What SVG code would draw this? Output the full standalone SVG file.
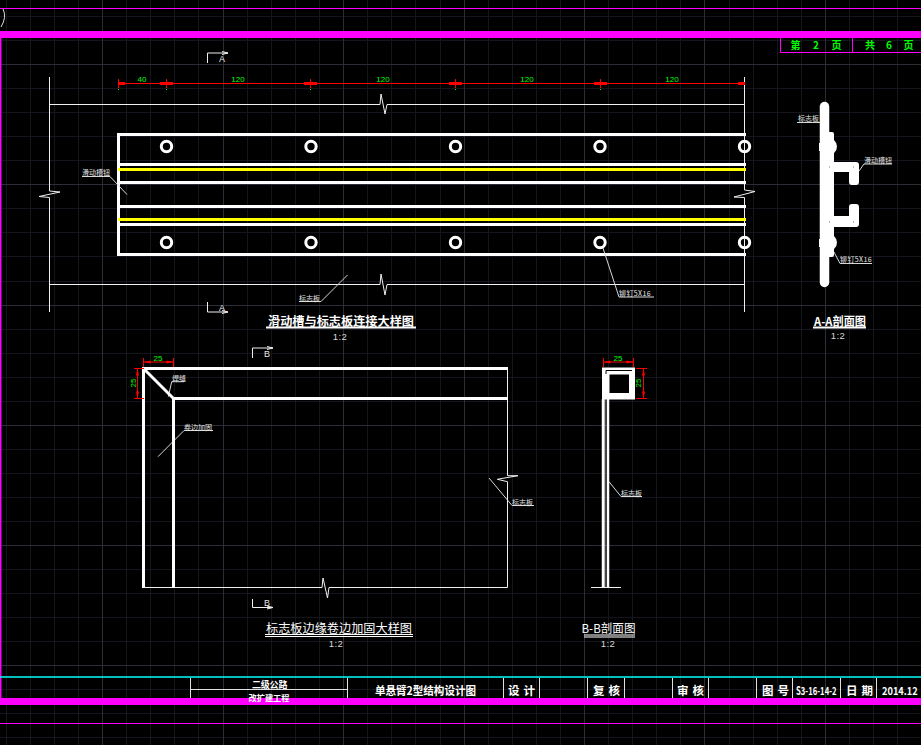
<svg xmlns="http://www.w3.org/2000/svg" width="921" height="745" viewBox="0 0 921 745">
<defs>
<style>
.minor{stroke:#15161d;stroke-width:1;fill:none}
.major{stroke:#2b2d37;stroke-width:1;fill:none}
.mag{stroke:#ff00ff;fill:none}
.thick{stroke:#fff;stroke-width:3;fill:none}
.thin{stroke:#f0f0f0;stroke-width:1;fill:none}
.lead{stroke:#d8d8d8;stroke-width:1;fill:none}
.hole{stroke:#fff;stroke-width:3;fill:#000}
.yel{stroke:#ffff00;stroke-width:3;fill:none}
.dim{stroke:#ff0000;stroke-width:1;fill:none}
.arr{fill:#ff0000;stroke:none}
.dot{fill:#00ff00;stroke:none}
.g{fill:#00ff00;font:8px "Liberation Sans","Noto Sans CJK SC",sans-serif;text-anchor:middle}
.pg{fill:#00ff00;font:bold 10px "Noto Sans CJK SC",sans-serif;text-anchor:middle}
.s{fill:#e8e8e8;font:7px "Noto Sans CJK SC",sans-serif}
.sec{fill:#e8e8e8;font:9px "Liberation Sans",sans-serif;text-anchor:middle}
.t{fill:#fff;font:bold 12px "Noto Sans CJK SC",sans-serif;text-anchor:middle}
.tn{fill:#fff;font:12px "Noto Sans CJK SC",sans-serif;text-anchor:middle}
.sc{fill:#d8d8d8;font:9.5px "Liberation Sans",sans-serif;text-anchor:middle;letter-spacing:.5px}
.tb{fill:#fff;font:bold 11.5px "Noto Sans CJK SC",sans-serif}
.fill{fill:#fff;stroke:none}
</style>
</defs>
<rect width="921" height="745" fill="#000"/>
<g id="grid">
<path class="minor" d="M6.5 0V745M30.5 0V745M54.5 0V745M78.5 0V745M126.5 0V745M150.5 0V745M174.5 0V745M198.5 0V745M247.5 0V745M271.5 0V745M295.5 0V745M319.5 0V745M367.5 0V745M391.5 0V745M415.5 0V745M440.5 0V745M488.5 0V745M512.5 0V745M536.5 0V745M560.5 0V745M608.5 0V745M632.5 0V745M656.5 0V745M680.5 0V745M729.5 0V745M753.5 0V745M777.5 0V745M801.5 0V745M849.5 0V745M873.5 0V745M897.5 0V745M0 16.5H921M0 40.5H921M0 88.5H921M0 112.5H921M0 136.5H921M0 160.5H921M0 208.5H921M0 232.5H921M0 256.5H921M0 281.5H921M0 329.5H921M0 353.5H921M0 377.5H921M0 401.5H921M0 449.5H921M0 473.5H921M0 497.5H921M0 521.5H921M0 569.5H921M0 593.5H921M0 617.5H921M0 641.5H921M0 689.5H921M0 713.5H921M0 737.5H921"/>
<path class="major" d="M102.5 0V745M223.5 0V745M343.5 0V745M464.5 0V745M584.5 0V745M704.5 0V745M825.5 0V745M0 64.5H921M0 184.5H921M0 305.5H921M0 425.5H921M0 545.5H921M0 665.5H921"/>
</g>
<g id="frame">
<path class="mag" stroke-width="1" d="M0 8.5H921M0 723.5H921"/>
<path class="mag" stroke-width="7" d="M0 34.5H921M0 701.5H921"/>
<path class="mag" stroke-width="1.5" d="M.7 38V698"/>
<path d="M0 677H921" stroke="#00ffff" stroke-width="1.5" fill="none"/>
<path d="M3 9Q7 17 1 27" stroke="#e0e0e0" stroke-width="1" fill="none"/>
</g>
<g id="page-box">
<path class="mag" stroke-width="1" d="M780.5 38V52.5H921M852.5 38V52.5"/>
<text class="pg" x="795.5" y="49">第</text><text class="pg" x="816" y="49">2</text><text class="pg" x="836.500" y="49">页</text>
<text class="pg" x="870" y="49">共</text><text class="pg" x="889" y="49">6</text><text class="pg" x="908.500" y="49">页</text>
</g>
<g id="plate-detail">
<path class="thin" d="M49.5 77V191L60 192 39 196.500 49.500 197.500V312M50 104.500H380L381 94 385 114 387 104.500H744.500M50 284.500H380L381 274 385 295 387 284.500H744.500M744.500 77V190L755 191.500 734 197 744.500 197.500V312"/>
<path class="thick" d="M746 134.500H118.500V254.500H746M118 164.500H746M118 182.500H746M118 206.500H746M118 224.500H746"/>
<path class="yel" d="M118 169.500H746M118 219.500H746"/>
<g id="rivets">
<circle class="hole" cx="166.500" cy="146.500" r="5.200"/><circle class="hole" cx="311" cy="146.500" r="5.200"/><circle class="hole" cx="455.500" cy="146.500" r="5.200"/><circle class="hole" cx="600" cy="146.500" r="5.200"/><circle class="hole" cx="744.500" cy="146.500" r="5.200"/>
<circle class="hole" cx="166.500" cy="242.500" r="5.200"/><circle class="hole" cx="311" cy="242.500" r="5.200"/><circle class="hole" cx="455.500" cy="242.500" r="5.200"/><circle class="hole" cx="600" cy="242.500" r="5.200"/><circle class="hole" cx="744.500" cy="242.500" r="5.200"/>
</g>
<path class="thin" d="M744.500 141V152M744.500 237V248"/>
</g>
<g id="dimensions-top">
<path class="dim" d="M118 83.500H745M118.500 79V88M166.500 79V88M310.500 79V88M455.500 79V88M600.500 79V88"/>
<path class="arr" d="M118 82h7v3h-7zM160 82h13v3h-13zM304 82h13v3h-13zM449 82h13v3h-13zM594 82h13v3h-13zM738 82h7v3h-7z"/>
<path class="dot" d="M118 89h1v1h-1zM166 89h1v1h-1zM310 89h1v1h-1zM455 89h1v1h-1zM600 89h1v1h-1z"/>
<text class="g" x="142" y="82">40</text><text class="g" x="238" y="82">120</text><text class="g" x="383" y="82">120</text><text class="g" x="527" y="82">120</text><text class="g" x="672" y="82">120</text>
</g>
<g id="section-marks-a">
<path class="thin" d="M207.500 63V53H228M207.500 302V312H228M222 51.500L228 53 222 54.500M222 310.500L228 312 222 313.500"/>
<text class="sec" x="222" y="62">A</text><text class="sec" x="222" y="311">A</text>
</g>
<g id="connectors">
<path class="lead" d="M82 176.500H110L127 194.500M299 301.500H321L347.500 275M654 297H619L603 248M797 122.500H820M892 164H864L859 171M872 263.500H840L834 252"/>
<path class="lead" d="M171.700 381.700H184M171.700 381.700L168.300 396.700M213 430.500H184L158 456.700M534 505.500H512L489 478M642 496.500H621L609 481.700"/>
</g>
<g id="labels-top">
<text class="s" x="82" y="175">滑动槽钮</text>
<text class="s" x="299" y="300.500">标志板</text>
<text class="s" x="619" y="296" letter-spacing=".4">铆钉5X16</text>
<text class="s" x="798" y="120.500">标志板</text>
<text class="s" x="864" y="162.500">滑动槽钮</text>
<text class="s" x="840" y="262" letter-spacing=".4">铆钉5X16</text>
</g>
<g id="title-top">
<path d="M266 327.500H416M813 327.500H866" stroke="#fff" stroke-width="2" fill="none"/>
<text class="t" x="341" y="326" textLength="146" lengthAdjust="spacingAndGlyphs">滑动槽与标志板连接大样图</text>
<text class="sc" x="340" y="340">1:2</text>
<text class="t" x="840" y="326" textLength="52" lengthAdjust="spacingAndGlyphs">A-A剖面图</text>
<text class="sc" x="838" y="339">1:2</text>
</g>
<g id="section-aa">
<path d="M824.500 106.500V282.500" stroke="#fff" stroke-width="9.500" stroke-linecap="round" fill="none"/>
<rect class="fill" x="825" y="132" width="9" height="125" rx="2"/>
<circle class="fill" cx="829" cy="146.500" r="8"/><circle class="fill" cx="829" cy="242.500" r="8"/>
<path class="fill" d="M819 143h8v8h-8zM819 239h8v8h-8z"/>
<path class="fill" d="M830 162H856Q859 162 859 165V182Q859 185 856 185H852Q849 185 849 182V172H830Z"/>
<path class="fill" d="M830 227H856Q859 227 859 224V207Q859 204 856 204H852Q849 204 849 207V216H830Z"/>
<path fill="#777" d="M829 166.500h1v1h-1zM853 166.500h1v1h-1zM829 221.500h1v1h-1zM853 221.500h1v1h-1z"/>
</g>
<g id="edge-detail">
<path class="thin" d="M145 587.500H322L323 578 327.500 598 329 587.500H507.500V481.700L497.300 479.300 518 475.700H507.500V369"/>
<path class="thick" d="M143.500 588V368.500H508M173.500 588V398.500H508M143.500 368.500L173.500 398.500"/>
<path class="dim" d="M143.500 362H173.500M143.500 358V367M173.500 358V367M137.500 368.500V398.500M134 368.500H144M134 398.500H144"/>
<path class="arr" d="M143.500 362l7-1.500v3zM173.500 362l-7-1.500v3zM137.500 368.500l-1.500 7h3zM137.500 398.500l-1.500-7h3z"/>
<text class="g" x="158" y="361">25</text>
<text class="g" transform="translate(136 383) rotate(-90)">25</text>
<path class="thin" d="M252.500 358V348H273M252.500 599V607.500H273M267 346.500L273 348 267 349.500M267 606L273 607.500 267 609"/>
<text class="sec" x="267" y="357">B</text><text class="sec" x="267" y="606">B</text>
<text class="s" x="172" y="381">焊缝</text>
<text class="s" x="184" y="429.500">卷边加固</text>
<text class="s" x="512" y="504.500">标志板</text>
</g>
<g id="title-edge">
<path d="M265 634.500H413M265 636.500H413" stroke="#fff" stroke-width="1" fill="none"/>
<text class="tn" x="339" y="633" textLength="146" lengthAdjust="spacingAndGlyphs">标志板边缘卷边加固大样图</text>
<text class="sc" x="336" y="647">1:2</text>
</g>
<g id="section-bb">
<rect class="fill" x="602" y="367.500" width="33" height="32"/>
<path d="M606 370.500H632M606 370.500V374" stroke="#000" stroke-width="1" fill="none"/>
<rect x="609.500" y="374.500" width="19.500" height="18.500" fill="#000"/>
<path d="M603 399V588M608 399V588" stroke="#fff" stroke-width="2.500" fill="none"/>
<path d="M604.800 399V588" stroke="#eee" stroke-width="1" fill="none"/>
<path class="thin" d="M591 587.500H621"/>
<path class="dim" d="M603.500 362H633.500M603.500 358V367M633.500 358V367M643.500 368.500V398.500M636 368.500H647M636 398.500H647"/>
<path class="arr" d="M603.500 362l7-1.500v3zM633.500 362l-7-1.500v3zM643.500 368.500l-1.500 7h3zM643.500 398.500l-1.500-7h3z"/>
<text class="g" x="618" y="361">25</text>
<text class="g" transform="translate(641 383) rotate(-90)">25</text>
<text class="s" x="621" y="495.500">标志板</text>
</g>
<g id="title-bb">
<path d="M584 635H635M584 637H635" stroke="#fff" stroke-width="1" fill="none"/>
<text class="tn" x="608.500" y="633" textLength="54" lengthAdjust="spacingAndGlyphs">B-B剖面图</text>
<text class="sc" x="608" y="647">1:2</text>
</g>
<g id="title-block">
<path d="M190.500 678V698M347.500 678V698M503.500 678V698M539.500 678V698M587.500 678V698M624.500 678V698M672.500 678V698M708.500 678V698M756.500 678V698M792.500 678V698M840.500 678V698M876.500 678V698M190 689.500H347" stroke="#e0e0e0" stroke-width="1" fill="none"/>
<text class="tb" font-size="10" style="font-size:9px" x="252" y="687.500" letter-spacing="-.2">二级公路</text>
<text class="tb" style="font-size:8.200px" x="248.500" y="700.500">改扩建工程</text>
<text class="tb" x="375" y="695" textLength="101" lengthAdjust="spacingAndGlyphs">单悬臂2型结构设计图</text>
<text class="tb" x="508" y="695" textLength="27">设计</text>
<text class="tb" x="593" y="695" textLength="27">复核</text>
<text class="tb" x="677" y="695" textLength="27">审核</text>
<text class="tb" x="762" y="695" textLength="27">图号</text>
<text class="tb" style="font-size:11px" transform="translate(796 695) scale(.7 1)">S3-16-14-2</text>
<text class="tb" x="846" y="695" textLength="27">日期</text>
<text class="tb" style="font-size:11px" transform="translate(882 695) scale(.84 1)">2014.12</text>
</g>
</svg>
